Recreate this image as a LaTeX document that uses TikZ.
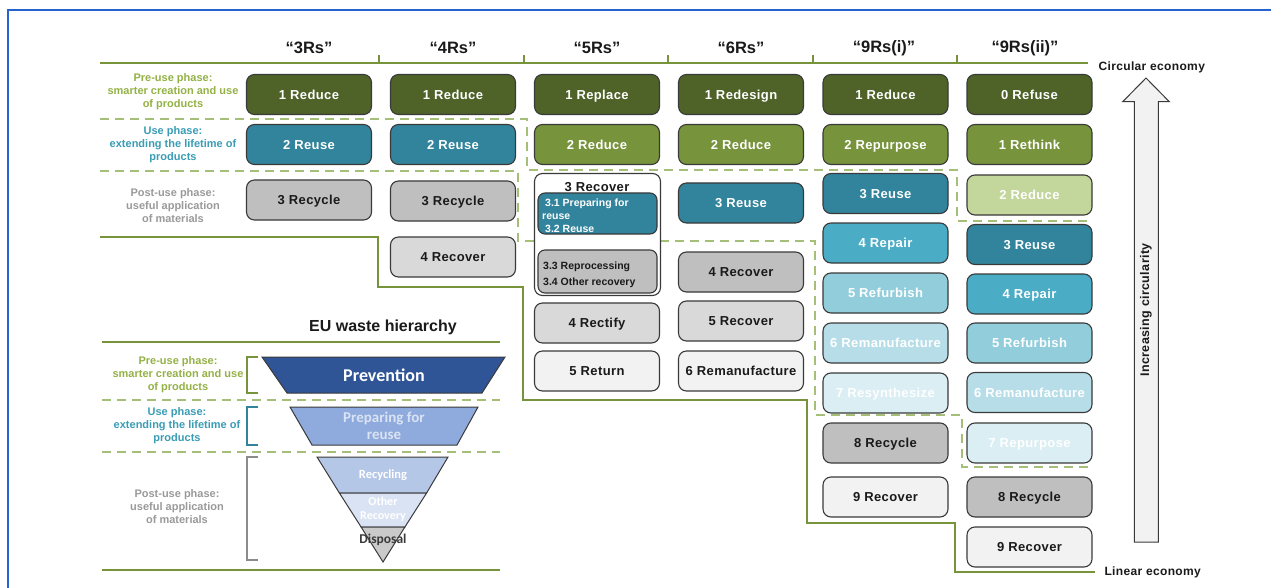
\documentclass[tikz,border=0pt]{standalone}
\usepackage{fontspec}
\setmainfont{Liberation Sans}
\newfontfamily\widefont[LetterSpace=3.0]{Liberation Sans}
\newfontfamily\calfont{Carlito}
\usetikzlibrary{calc}

% palette
\definecolor{cOlive}{HTML}{4F6228}
\definecolor{cGrass}{HTML}{77933C}
\definecolor{cPale}{HTML}{C3D69B}
\definecolor{cTeal}{HTML}{31849B}
\definecolor{cCyan}{HTML}{4BACC6}
\definecolor{cSky}{HTML}{92CDDC}
\definecolor{cIce}{HTML}{B7DEE8}
\definecolor{cFrost}{HTML}{DAEEF3}
\definecolor{cGray}{HTML}{BFBFBF}
\definecolor{cSilver}{HTML}{D9D9D9}
\definecolor{cWhite}{HTML}{F2F2F2}
\definecolor{edge}{HTML}{3A3A3A}
\definecolor{ink}{HTML}{1A1A1A}
\definecolor{lineGreen}{HTML}{77933C}
\definecolor{dashGreen}{HTML}{A5BF78}
\definecolor{lblPre}{HTML}{94B146}
\definecolor{lblUse}{HTML}{3A9DB5}
\definecolor{lblPost}{HTML}{9A9A9A}
\definecolor{frameBlue}{HTML}{2563D0}
\definecolor{euDark}{HTML}{2F5597}
\definecolor{euMid}{HTML}{8FAADC}
\definecolor{euLight}{HTML}{B4C7E7}
\definecolor{euPale}{HTML}{DAE3F3}
\definecolor{euGray}{HTML}{CACACA}

\tikzset{
  box/.style={rounded corners=8pt, draw=edge, line width=1.1pt,
    minimum width=125pt, minimum height=40pt, inner sep=0pt, align=center,
    text height=9.3pt, text depth=0pt,
    font=\widefont\bfseries\fontsize{13}{15}\selectfont},
  olive/.style={box, fill=cOlive, text=white},
  grass/.style={box, fill=cGrass, text=white},
  pale/.style={box, fill=cPale, text=white},
  teal/.style={box, fill=cTeal, text=white},
  cyan/.style={box, fill=cCyan, text=white},
  sky/.style={box, fill=cSky, text=white},
  ice/.style={box, fill=cIce, text=white},
  frost/.style={box, fill=cFrost, text=white},
  grey/.style={box, fill=cGray, text=ink},
  silver/.style={box, fill=cSilver, text=ink},
  pearl/.style={box, fill=cWhite, text=ink},
  header/.style={font=\bfseries\fontsize{16.5}{18}\selectfont, text=ink},
  phase/.style={align=center, font=\bfseries\fontsize{11}{13}\selectfont},
  solidgreen/.style={draw=lineGreen, line width=2.4pt},
  dashgreen/.style={draw=dashGreen, line width=1.6pt, dash pattern=on 9pt off 6pt},
  eco/.style={font=\widefont\bfseries\fontsize{12}{14}\selectfont, text=ink, anchor=west},
  eushape/.style={draw=edge, line width=1pt},
}

\begin{document}
\begin{tikzpicture}[x=1pt,y=-1pt]
\useasboundingbox (0,0) rectangle (1271,588);
\fill[white] (0,0) rectangle (1271,588);

% frame
\draw[frameBlue, line width=2pt] (8,588) -- (8,10) -- (1271,10);

% ---------- column headers ----------
\draw[solidgreen] (100,63) -- (1088,63);
\foreach \tx in {379,524,668,813,957}
  \draw[lineGreen, line width=2pt] (\tx,55) -- (\tx,63);
\node[header] (h3) at (309,48) {“3Rs”};
\node[header] (h4) at (453,48) {“4Rs”};
\node[header] (h5) at (597,48) {“5Rs”};
\node[header] (h6) at (741,48) {“6Rs”};
\node[header] (h9a) at (884,48) {“9Rs(i)”};
\node[header] (h9b) at (1025,48) {“9Rs(ii)”};

% ---------- phase boundaries ----------
\draw[dashgreen] (100,119) -- (527,119) -- (527,170) -- (957,170) -- (957,221) -- (1092,221);
\draw[dashgreen] (100,171) -- (518,171) -- (518,241) -- (815,241) -- (815,415)
  -- (962,415) -- (962,467) -- (1092,467);
\draw[solidgreen] (100,237) -- (378,237) -- (378,287) -- (523,287) -- (523,400)
  -- (807,400) -- (807,523) -- (955,523) -- (955,572) -- (1095,572);

% phase labels
\node[phase, text=lblPre] (pre1) at (173,92) {Pre-use phase:\\smarter creation and use\\of products};
\node[phase, text=lblUse] (use1) at (173,145) {Use phase:\\extending the lifetime of\\products};
\node[phase, text=lblPost] (post1) at (173,206) {Post-use phase:\\useful application\\of materials};

% ---------- 3Rs ----------
\node[olive] (a1) at (309,94.5) {1 Reduce};
\node[teal]  (a2) at (309,144.5) {2 Reuse};
\node[grey]  (a3) at (309,200) {3 Recycle};

% ---------- 4Rs ----------
\node[olive]  (b1) at (453,94.5) {1 Reduce};
\node[teal]   (b2) at (453,144.5) {2 Reuse};
\node[grey]   (b3) at (453,201) {3 Recycle};
\node[silver] (b4) at (453,257) {4 Recover};

% ---------- 5Rs ----------
\node[olive] (c1) at (597,94.5) {1 Replace};
\node[grass] (c2) at (597,144.5) {2 Reduce};
\node[box, fill=white, minimum width=126pt, minimum height=122pt] (c3) at (597.5,234.5) {};
\node[font=\widefont\bfseries\fontsize{13}{15}\selectfont, text=ink] (c3t) at (597,187) {3 Recover};
\node[box, fill=cTeal, minimum width=119pt, minimum height=41pt, rounded corners=7pt] (c3a) at (597.5,213.5) {};
\node[anchor=west, align=left, text=white, inner sep=0pt,
      font=\bfseries\fontsize{10.5}{13}\selectfont] (c3at) at (542,215.5)
      {\hspace{3pt}3.1 Preparing for\\reuse\\\hspace{3pt}3.2 Reuse};
\node[box, fill=cGray, minimum width=119pt, minimum height=43pt, rounded corners=7pt] (c3b) at (597.5,271.5) {};
\node[anchor=west, align=left, text=ink, inner sep=0pt,
      font=\bfseries\fontsize{10.5}{16}\selectfont] (c3bt) at (543,275)
      {3.3 Reprocessing\\3.4 Other recovery};
\node[silver] (c4) at (597,323) {4 Rectify};
\node[pearl]  (c5) at (597,371) {5 Return};

% ---------- 6Rs ----------
\node[olive]  (d1) at (741,94.5) {1 Redesign};
\node[grass]  (d2) at (741,144.5) {2 Reduce};
\node[teal]   (d3) at (741,203) {3 Reuse};
\node[grey]   (d4) at (741,272) {4 Recover};
\node[silver] (d5) at (741,321) {5 Recover};
\node[pearl]  (d6) at (741,371) {6 Remanufacture};

% ---------- 9Rs(i) ----------
\node[olive] (e1) at (885.5,94.5) {1 Reduce};
\node[grass] (e2) at (885.5,144.5) {2 Repurpose};
\node[teal]  (e3) at (885.5,193.5) {3 Reuse};
\node[cyan]  (e4) at (885.5,243) {4 Repair};
\node[sky]   (e5) at (885.5,293) {5 Refurbish};
\node[ice]   (e6) at (885.5,343) {6 Remanufacture};
\node[frost] (e7) at (885.5,393) {7 Resynthesize};
\node[grey]  (e8) at (885.5,443) {8 Recycle};
\node[pearl] (e9) at (885.5,497) {9 Recover};

% ---------- 9Rs(ii) ----------
\node[olive] (f0) at (1029.5,94.5) {0 Refuse};
\node[grass] (f1) at (1029.5,144.5) {1 Rethink};
\node[pale]  (f2) at (1029.5,195) {2 Reduce};
\node[teal]  (f3) at (1029.5,244.5) {3 Reuse};
\node[cyan]  (f4) at (1029.5,294) {4 Repair};
\node[sky]   (f5) at (1029.5,343) {5 Refurbish};
\node[ice]   (f6) at (1029.5,392.5) {6 Remanufacture};
\node[frost] (f7) at (1029.5,443) {7 Repurpose};
\node[grey]  (f8) at (1029.5,497) {8 Recycle};
\node[pearl] (f9) at (1029.5,547) {9 Recover};

% ---------- circularity arrow ----------
\node[eco] (circ) at (1095,67) {Circular economy};
\node[eco] (lin) at (1101,572) {Linear economy};
\draw[fill=cWhite, draw=edge, line width=1pt]
  (1134.3,542) -- (1134.3,101.7) -- (1122.7,101.7) -- (1146,78)
  -- (1169.3,101.7) -- (1158.3,101.7) -- (1158.3,542) -- cycle;
\node[rotate=90, font=\widefont\bfseries\fontsize{12.5}{14}\selectfont, text=ink] (incr) at (1146,310) {Increasing circularity};

% ---------- EU waste hierarchy ----------
\node[font=\bfseries\fontsize{16}{18}\selectfont, text=ink] (eut) at (383,327) {EU waste hierarchy};
\draw[solidgreen] (102,342) -- (500,342);
\draw[solidgreen] (102,570) -- (500,570);
\draw[dashgreen] (102,400) -- (500,400);
\draw[dashgreen] (102,452) -- (500,452);

\node[phase, text=lblPre] (pre2) at (178,375) {Pre-use phase:\\smarter creation and use\\of products};
\node[phase, text=lblUse] (use2) at (177,426) {Use phase:\\extending the lifetime of\\products};
\node[phase, text=lblPost] (post2) at (177,507) {Post-use phase:\\useful application\\of materials};

% brackets
\draw[lineGreen, line width=1.5pt] (258,357) -- (247,357) -- (247,393) -- (258,393);
\draw[cTeal, line width=1.5pt] (258,407) -- (247,407) -- (247,445) -- (258,445);
\draw[lblPost!90!black, line width=1.5pt] (258,457) -- (247,457) -- (247,560) -- (258,560);

% inverted pyramid
\draw[eushape, fill=euDark] (262,357) -- (505,357) -- (482,393) -- (287,393) -- cycle;
\node[font=\calfont\bfseries\fontsize{18}{20}\selectfont, text=white] (prev) at (384,375) {Prevention};
\draw[eushape, fill=euMid] (290,407) -- (478,407) -- (457,445) -- (312,445) -- cycle;
\node[align=center, font=\calfont\bfseries\fontsize{15}{17}\selectfont, text=euPale] (prep) at (384,426) {Preparing for\\reuse};
\draw[eushape, fill=euLight] (317,457) -- (448,457) -- (426.6,493) -- (339.4,493) -- cycle;
\draw[eushape, fill=euPale] (339.4,493) -- (426.6,493) -- (404.9,527) -- (361.1,527) -- cycle;
\draw[eushape, fill=euGray] (361.1,527) -- (404.9,527) -- (383,562) -- cycle;
\node[font=\calfont\bfseries\fontsize{12.5}{14}\selectfont, text=white] (recy) at (383,475) {Recycling};
\node[align=center, font=\calfont\bfseries\fontsize{12}{14}\selectfont, text=white] (othr) at (383,509) {Other\\Recovery};
\node[font=\calfont\bfseries\fontsize{13.5}{15}\selectfont, text=edge] (disp) at (383,540) {Disposal};

\end{tikzpicture}
\end{document}
